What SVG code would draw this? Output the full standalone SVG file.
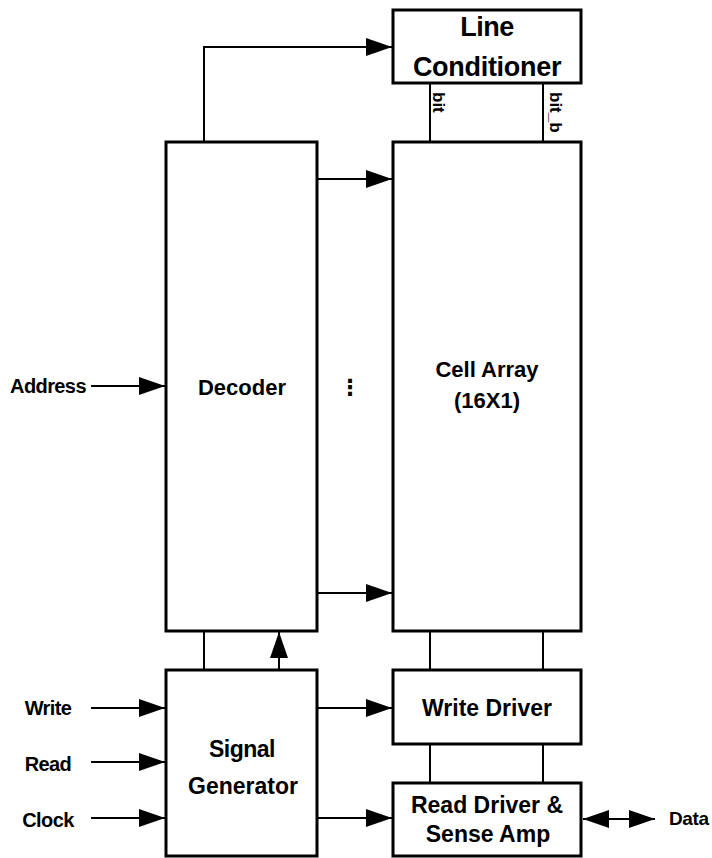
<svg xmlns="http://www.w3.org/2000/svg" width="712" height="858" viewBox="0 0 712 858">
<defs>
<marker id="ah" viewBox="0 0 26 18" refX="26" refY="9" markerWidth="26" markerHeight="18" markerUnits="userSpaceOnUse" orient="auto-start-reverse">
<path d="M0,0 L26,9 L0,18 Z" fill="#000"/>
</marker>
<style>
.box{fill:#fff;stroke:#000;stroke-width:3}
.ln{fill:none;stroke:#000;stroke-width:2}
.ar{fill:none;stroke:#000;stroke-width:2;marker-end:url(#ah)}
text{font-family:"Liberation Sans",Arial,sans-serif;font-weight:bold;fill:#000}
.t{font-size:23px;text-anchor:middle}
.s{font-size:20px;text-anchor:middle;letter-spacing:-0.6px}
.b{font-size:17px}
</style>
</defs>
<rect width="712" height="858" fill="#fff"/>
<g id="connectors">
<polyline class="ar" points="204,142 204,47 392,47"/>
<line class="ar" x1="317" y1="179" x2="392" y2="179"/>
<line class="ar" x1="317" y1="593" x2="392" y2="593"/>
<line class="ar" x1="91" y1="386" x2="165" y2="386"/>
<line class="ar" x1="279" y1="670" x2="279" y2="632"/>
<line class="ln" x1="204" y1="631" x2="204" y2="670"/>
<line class="ln" x1="430" y1="83" x2="430" y2="142"/>
<line class="ln" x1="543" y1="83" x2="543" y2="142"/>
<line class="ln" x1="430" y1="631" x2="430" y2="670"/>
<line class="ln" x1="543" y1="631" x2="543" y2="670"/>
<line class="ln" x1="430" y1="744" x2="430" y2="783"/>
<line class="ln" x1="543" y1="744" x2="543" y2="783"/>
<line class="ar" x1="91" y1="708" x2="165" y2="708"/>
<line class="ar" x1="91" y1="762" x2="165" y2="762"/>
<line class="ar" x1="91" y1="818" x2="165" y2="818"/>
<line class="ar" x1="317" y1="708" x2="392" y2="708"/>
<line class="ar" x1="317" y1="818" x2="392" y2="818"/>
<line class="ar" x1="583" y1="819" x2="655" y2="819" style="marker-start:url(#ah)"/>
</g>
<g id="line-conditioner">
<rect class="box" x="393" y="10" width="188" height="73"/>
<text x="487" y="36" style="font-size:27px;text-anchor:middle;letter-spacing:-0.5px">Line</text>
<text x="487" y="76" style="font-size:27px;text-anchor:middle;letter-spacing:-0.3px">Conditioner</text>
</g>
<g id="decoder">
<rect class="box" x="166" y="142" width="151" height="489"/>
<text class="t" x="242" y="395" style="font-size:22px">Decoder</text>
</g>
<g id="cell-array">
<rect class="box" x="393" y="142" width="188" height="489"/>
<text class="t" x="487" y="377" style="font-size:22px">Cell Array</text>
<text class="t" x="487" y="408" style="font-size:22px">(16X1)</text>
</g>
<g id="signal-generator">
<rect class="box" x="166" y="670" width="151" height="186"/>
<text class="t" x="242" y="757" style="letter-spacing:-0.5px">Signal</text>
<text class="t" x="243" y="794">Generator</text>
</g>
<g id="write-driver">
<rect class="box" x="393" y="670" width="188" height="74"/>
<text class="t" x="487" y="716">Write Driver</text>
</g>
<g id="read-driver">
<rect class="box" x="393" y="783" width="188" height="73"/>
<text class="t" x="487" y="813">Read Driver &amp;</text>
<text class="t" x="488" y="842">Sense Amp</text>
</g>
<g id="labels">
<text class="s" x="48" y="393">Address</text>
<text class="s" x="48" y="715">Write</text>
<text class="s" x="48" y="771">Read</text>
<text class="s" x="48" y="827">Clock</text>
<text x="669" y="825" style="font-size:19px;letter-spacing:-0.4px">Data</text>
<text class="b" transform="translate(433,92) rotate(90)">bit</text>
<text class="b" transform="translate(550,92) rotate(90)">bit_b</text>
<text x="350" y="395" style="font-family:'DejaVu Sans',sans-serif;font-size:22px;text-anchor:middle">⋮</text>
</g>
</svg>
